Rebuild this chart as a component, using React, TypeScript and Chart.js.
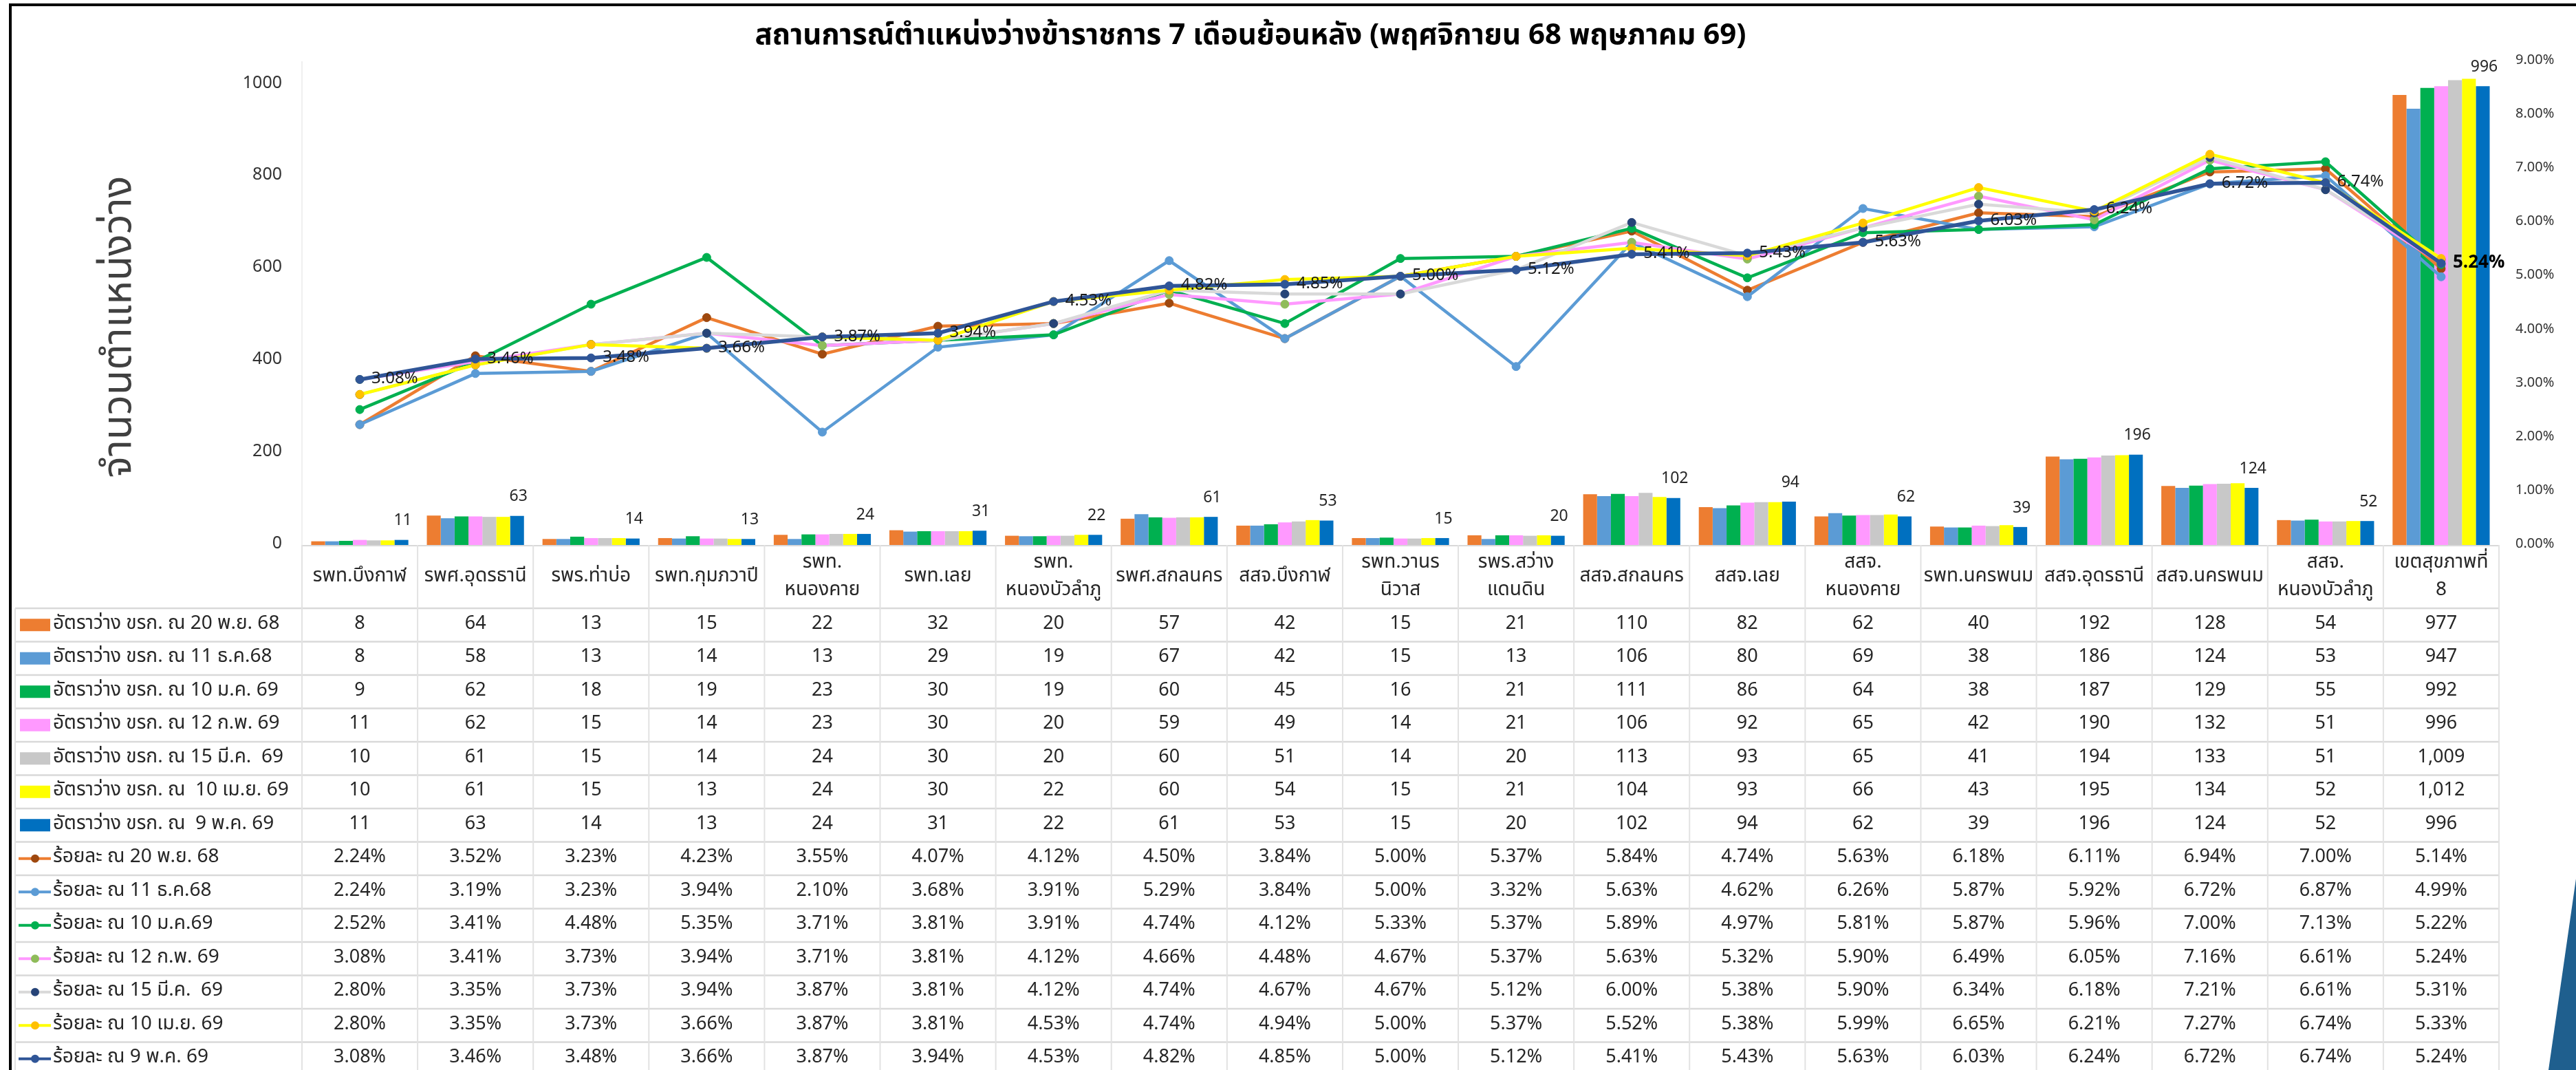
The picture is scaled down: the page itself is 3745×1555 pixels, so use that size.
import React, { useEffect, useRef } from 'react';
import { Chart, registerables } from 'chart.js';

Chart.register(...registerables);

const TITLE = 'สถานการณ์ตำแหน่งว่างข้าราชการ 7 เดือนย้อนหลัง (พฤศจิกายน 68 พฤษภาคม 69)';
const Y_TITLE = 'จำนวนตำแหน่งว่าง';

const categories = [
  'รพท.บึงกาฬ', 'รพศ.อุดรธานี', 'รพร.ท่าบ่อ', 'รพท.กุมภวาปี', 'รพท.\nหนองคาย', 'รพท.เลย',
  'รพท.\nหนองบัวลำภู', 'รพศ.สกลนคร', 'สสจ.บึงกาฬ', 'รพท.วานร\nนิวาส', 'รพร.สว่าง\nแดนดิน',
  'สสจ.สกลนคร', 'สสจ.เลย', 'สสจ.\nหนองคาย', 'รพท.นครพนม', 'สสจ.อุดรธานี', 'สสจ.นครพนม',
  'สสจ.\nหนองบัวลำภู', 'เขตสุขภาพที่\n8',
];

const barLabels = [
  'อัตราว่าง ขรก. ณ 20 พ.ย. 68',
  'อัตราว่าง ขรก. ณ 11 ธ.ค.68',
  'อัตราว่าง ขรก. ณ 10 ม.ค. 69',
  'อัตราว่าง ขรก. ณ 12 ก.พ. 69',
  'อัตราว่าง ขรก. ณ 15 มี.ค.  69',
  'อัตราว่าง ขรก. ณ  10 เม.ย. 69',
  'อัตราว่าง ขรก. ณ  9 พ.ค. 69',
];

const lineLabels = [
  'ร้อยละ ณ 20 พ.ย. 68',
  'ร้อยละ ณ 11 ธ.ค.68',
  'ร้อยละ ณ 10 ม.ค.69',
  'ร้อยละ ณ 12 ก.พ. 69',
  'ร้อยละ ณ 15 มี.ค.  69',
  'ร้อยละ ณ 10 เม.ย. 69',
  'ร้อยละ ณ 9 พ.ค. 69',
];

const vacNov68 = [8, 64, 13, 15, 22, 32, 20, 57, 42, 15, 21, 110, 82, 62, 40, 192, 128, 54, 977];
const vacDec68 = [8, 58, 13, 14, 13, 29, 19, 67, 42, 15, 13, 106, 80, 69, 38, 186, 124, 53, 947];
const vacJan69 = [9, 62, 18, 19, 23, 30, 19, 60, 45, 16, 21, 111, 86, 64, 38, 187, 129, 55, 992];
const vacFeb69 = [11, 62, 15, 14, 23, 30, 20, 59, 49, 14, 21, 106, 92, 65, 42, 190, 132, 51, 996];
const vacMar69 = [10, 61, 15, 14, 24, 30, 20, 60, 51, 14, 20, 113, 93, 65, 41, 194, 133, 51, 1009];
const vacApr69 = [10, 61, 15, 13, 24, 30, 22, 60, 54, 15, 21, 104, 93, 66, 43, 195, 134, 52, 1012];
const vacMay69 = [11, 63, 14, 13, 24, 31, 22, 61, 53, 15, 20, 102, 94, 62, 39, 196, 124, 52, 996];

const pctNov68 = [2.24, 3.52, 3.23, 4.23, 3.55, 4.07, 4.12, 4.50, 3.84, 5.00, 5.37, 5.84, 4.74, 5.63, 6.18, 6.11, 6.94, 7.00, 5.14];
const pctDec68 = [2.24, 3.19, 3.23, 3.94, 2.10, 3.68, 3.91, 5.29, 3.84, 5.00, 3.32, 5.63, 4.62, 6.26, 5.87, 5.92, 6.72, 6.87, 4.99];
const pctJan69 = [2.52, 3.41, 4.48, 5.35, 3.71, 3.81, 3.91, 4.74, 4.12, 5.33, 5.37, 5.89, 4.97, 5.81, 5.87, 5.96, 7.00, 7.13, 5.22];
const pctFeb69 = [3.08, 3.41, 3.73, 3.94, 3.71, 3.81, 4.12, 4.66, 4.48, 4.67, 5.37, 5.63, 5.32, 5.90, 6.49, 6.05, 7.16, 6.61, 5.24];
const pctMar69 = [2.80, 3.35, 3.73, 3.94, 3.87, 3.81, 4.12, 4.74, 4.67, 4.67, 5.12, 6.00, 5.38, 5.90, 6.34, 6.18, 7.21, 6.61, 5.31];
const pctApr69 = [2.80, 3.35, 3.73, 3.66, 3.87, 3.81, 4.53, 4.74, 4.94, 5.00, 5.37, 5.52, 5.38, 5.99, 6.65, 6.21, 7.27, 6.74, 5.33];
const pctMay69 = [3.08, 3.46, 3.48, 3.66, 3.87, 3.94, 4.53, 4.82, 4.85, 5.00, 5.12, 5.41, 5.43, 5.63, 6.03, 6.24, 6.72, 6.74, 5.24];

const leftTicks = [0, 200, 400, 600, 800, 1000];

const barSeries = [vacNov68, vacDec68, vacJan69, vacFeb69, vacMar69, vacApr69, vacMay69];
const lineSeries = [pctNov68, pctDec68, pctJan69, pctFeb69, pctMar69, pctApr69, pctMay69];

const barColors = ['#ED7D31', '#5B9BD5', '#00B050', '#FF99FF', '#C8C8C8', '#FFFF00', '#0070C0'];
const lineColors = ['#ED7D31', '#5B9BD5', '#00B050', '#FF99FF', '#D9D9D9', '#FFFF00', '#2F5597'];
const markerColors = ['#9E480E', '#5B9BD5', '#00B050', '#8FBC5A', '#264478', '#FFC000', '#2F5597'];

const FONT = "'Noto Sans Thai', 'Noto Sans Thai Looped', 'Noto Sans', 'DejaVu Sans', sans-serif";

const W = 3745;
const H = 1555;

const decorPlugin = {
  id: 'decor',
  afterDraw(chart: any) {
    const ctx = chart.ctx;
    const xs = chart.scales.x;
    const area = chart.chartArea;
    const n = categories.length;
    const colW = (area.right - area.left) / n;

    ctx.save();

    // frame
    ctx.fillStyle = '#000';
    ctx.fillRect(13, 5, 4, H);
    ctx.fillRect(13, 5, W - 13, 4);

    // decoration bottom-right
    ctx.fillStyle = '#1F5F8E';
    ctx.beginPath();
    ctx.moveTo(W, 1277);
    ctx.lineTo(3705, H);
    ctx.lineTo(W, H);
    ctx.closePath();
    ctx.fill();

    // title
    ctx.fillStyle = '#000';
    ctx.font = `bold 42px ${FONT}`;
    ctx.textAlign = 'center';
    ctx.textBaseline = 'middle';
    ctx.fillText(TITLE, 1818, 56);

    // y axis title
    ctx.save();
    ctx.translate(178, 475);
    ctx.rotate(-Math.PI / 2);
    ctx.font = `59px ${FONT}`;
    ctx.fillStyle = '#404040';
    ctx.fillText(Y_TITLE, 0, 0);
    ctx.restore();

    // plot left border (faint)
    ctx.strokeStyle = '#EFEFEF';
    ctx.lineWidth = 2;
    ctx.beginPath();
    ctx.moveTo(area.left, area.top);
    ctx.lineTo(area.left, area.bottom);
    ctx.stroke();

    // table grid
    const tableLeft = 22;
    const headTop = area.bottom;
    const headBottom = 884;
    const rowH = 48.5;
    const rows = 14;

    ctx.strokeStyle = '#D9D9D9';
    ctx.lineWidth = 2;
    ctx.beginPath();
    ctx.moveTo(area.left, headTop + 1);
    ctx.lineTo(area.right, headTop + 1);
    ctx.stroke();

    ctx.lineWidth = 2.5;
    for (let k = 0; k <= rows; k++) {
      const y = headBottom + k * rowH;
      ctx.beginPath();
      ctx.moveTo(tableLeft, y);
      ctx.lineTo(area.right, y);
      ctx.stroke();
    }
    ctx.lineWidth = 2;
    ctx.strokeStyle = '#E2E2E2';
    ctx.beginPath();
    ctx.moveTo(tableLeft, headBottom);
    ctx.lineTo(tableLeft, H);
    ctx.stroke();
    for (let i = 0; i <= n; i++) {
      const x = area.left + i * colW;
      ctx.beginPath();
      ctx.moveTo(x, headTop);
      ctx.lineTo(x, H);
      ctx.stroke();
    }

    // header category labels
    ctx.fillStyle = '#262626';
    ctx.font = `28px ${FONT}`;
    ctx.textAlign = 'center';
    ctx.textBaseline = 'middle';
    const headMid = (headTop + headBottom) / 2 + 1;
    categories.forEach((c, i) => {
      const cx = xs.getPixelForValue(i);
      const parts = c.split('\n');
      if (parts.length === 1) {
        ctx.fillText(parts[0], cx, headMid);
      } else {
        ctx.fillText(parts[0], cx, headMid - 20);
        ctx.fillText(parts[1], cx, headMid + 20);
      }
    });

    // rows
    const allLabels = [...barLabels, ...lineLabels];
    for (let r = 0; r < rows; r++) {
      const yc = headBottom + r * rowH + rowH / 2;
      if (r < 7) {
        ctx.fillStyle = barColors[r];
        ctx.fillRect(29, yc - 9, 44, 18);
      } else {
        const s = r - 7;
        ctx.strokeStyle = lineColors[s];
        ctx.lineWidth = 4;
        ctx.beginPath();
        ctx.moveTo(27, yc);
        ctx.lineTo(74, yc);
        ctx.stroke();
        ctx.fillStyle = markerColors[s];
        ctx.beginPath();
        ctx.arc(51, yc, 6, 0, Math.PI * 2);
        ctx.fill();
      }
      ctx.fillStyle = '#262626';
      ctx.font = `28px ${FONT}`;
      ctx.textAlign = 'left';
      ctx.fillText(allLabels[r], 77, yc);

      ctx.font = `27px ${FONT}`;
      ctx.textAlign = 'center';
      for (let i = 0; i < n; i++) {
        const cx = xs.getPixelForValue(i);
        let txt: string;
        if (r < 7) {
          txt = barSeries[r][i].toLocaleString('en-US');
        } else {
          txt = lineSeries[r - 7][i].toFixed(2) + '%';
        }
        ctx.fillText(txt, cx, yc);
      }
    }

    ctx.restore();
  },
  afterDatasetsDraw(chart: any) {
    const ctx = chart.ctx;
    ctx.save();
    // bar labels of last bar series
    const barMeta = chart.getDatasetMeta(6);
    ctx.fillStyle = '#262626';
    ctx.font = `23px ${FONT}`;
    ctx.textAlign = 'center';
    ctx.textBaseline = 'middle';
    barMeta.data.forEach((el: any, i: number) => {
      ctx.fillText(String(vacMay69[i]), el.x + 2, el.y - 26);
    });
    // line labels of last line series
    const lineMeta = chart.getDatasetMeta(13);
    ctx.textAlign = 'left';
    lineMeta.data.forEach((el: any, i: number) => {
      const last = i === lineMeta.data.length - 1;
      ctx.font = last ? `bold 26px ${FONT}` : `24px ${FONT}`;
      ctx.fillStyle = last ? '#000' : '#1a1a1a';
      ctx.fillText(pctMay69[i].toFixed(2) + '%', el.x + 17, el.y + 1);
    });
    ctx.restore();
  },
};

export default function App() {
  const canvasRef = useRef<HTMLCanvasElement | null>(null);

  useEffect(() => {
    document.body.style.margin = '0';
    document.body.style.overflow = 'hidden';
    const canvas = canvasRef.current;
    if (!canvas) return;

    const datasets: any[] = [];
    barSeries.forEach((d, i) => {
      datasets.push({
        type: 'bar',
        label: barLabels[i],
        data: d,
        backgroundColor: barColors[i],
        borderWidth: 0,
        yAxisID: 'y',
        order: 20,
        categoryPercentage: 0.84,
        barPercentage: 1.0,
      });
    });
    lineSeries.forEach((d, i) => {
      datasets.push({
        type: 'line',
        label: lineLabels[i],
        data: d.map((v) => v / 100),
        borderColor: lineColors[i],
        backgroundColor: markerColors[i],
        pointBackgroundColor: markerColors[i],
        pointBorderColor: markerColors[i],
        pointBorderWidth: 1,
        pointRadius: 6,
        borderWidth: i === 6 ? 5.5 : 4.5,
        tension: 0,
        fill: false,
        yAxisID: 'y1',
        order: 6 - i,
      });
    });

    const chart = new Chart(canvas, {
      type: 'bar',
      data: { labels: categories, datasets },
      plugins: [decorPlugin],
      options: {
        responsive: false,
        animation: false,
        devicePixelRatio: 1,
        layout: { padding: { top: 89, bottom: H - 792, left: 0, right: 0 } },
        plugins: {
          legend: { display: false },
          title: { display: false },
          tooltip: { enabled: false },
        },
        scales: {
          x: {
            type: 'category',
            display: false,
            offset: true,
            grid: { display: false },
          },
          y: {
            type: 'linear',
            position: 'left',
            min: 0,
            max: 1050,
            afterBuildTicks: (scale: any) => {
              scale.ticks = leftTicks.map((v) => ({ value: v }));
            },
            afterFit: (scale: any) => {
              scale.width = 439;
            },
            grid: { display: false, drawTicks: false },
            border: { display: false },
            ticks: {
              padding: 29,
              color: '#333333',
              font: { family: FONT, size: 25 },
              callback: (v: any) => String(v),
            },
          },
          y1: {
            type: 'linear',
            position: 'right',
            min: 0,
            max: 0.09,
            afterFit: (scale: any) => {
              scale.width = W - 3633;
            },
            grid: { display: false, drawTicks: false },
            border: { display: false },
            ticks: {
              stepSize: 0.01,
              padding: 24,
              color: '#333333',
              font: { family: FONT, size: 20 },
              callback: (v: any) => (Number(v) * 100).toFixed(2) + '%',
            },
          },
        },
      } as any,
    });

    return () => {
      chart.destroy();
    };
  }, []);

  return (
    <div style={{ width: W, height: H, background: '#fff' }}>
      <canvas ref={canvasRef} width={W} height={H} style={{ display: 'block', width: W, height: H }} />
    </div>
  );
}
